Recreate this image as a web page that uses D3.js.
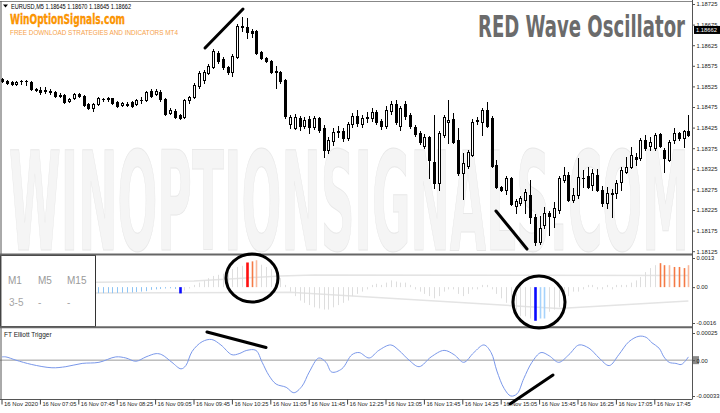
<!DOCTYPE html>
<html><head><meta charset="utf-8">
<script src="https://cdn.jsdelivr.net/npm/d3@7/dist/d3.min.js"></script>
<style>body{margin:0;background:#fff;}svg{display:block;}</style>
</head><body>
<svg id="c" width="720" height="413"></svg>
<script>
// ---------- DATA ----------
const symbolInfo = "EURUSD,M5  1.18645 1.18670 1.18645 1.18662";
const lastPrice = 1.18662;
const timeLabelBars = [0,8,16,24,32,40,48,56,64,72,80,88,96,104,112,120,128,136];
const timeLabels = ["16 Nov 2020","16 Nov 07:05","16 Nov 07:45","16 Nov 08:25","16 Nov 09:05","16 Nov 09:45","16 Nov 10:25","16 Nov 11:05","16 Nov 11:45","16 Nov 12:25","16 Nov 13:05","16 Nov 13:45","16 Nov 14:25","16 Nov 15:05","16 Nov 15:45","16 Nov 16:25","16 Nov 17:05","16 Nov 17:45"];
const priceTicks = [1.18725,1.18675,1.18625,1.18575,1.18525,1.18475,1.18425,1.18375,1.18325,1.18275,1.18225,1.18175,1.18125];
const waveTicks = [0.0013,0,-0.0016];
const waveTickLabels = ["0.0013","0.00","-0.0016"];
const trigTicks = [0.00025,0,-0.00033];
const trigTickLabels = ["0.00025","0.00","-0.00033"];

const open = [1.18543,1.18538,1.18536,1.18531,1.18537,1.18538,1.18536,1.18519,1.18516,1.18516,
1.18514,1.18511,1.18504,1.18504,1.18490,1.18497,1.18507,1.18502,1.18482,1.18473,
1.18482,1.18494,1.18494,1.18496,1.18487,1.18480,1.18483,1.18487,1.18482,1.18492,
1.18492,1.18514,1.18507,1.18511,1.18494,1.18460,1.18465,1.18456,1.18451,1.18492,
1.18499,1.18526,1.18541,1.18558,1.18572,1.18606,1.18592,1.18572,1.18560,1.18596,
1.18669,1.18669,1.18660,1.18660,1.18609,1.18594,1.18587,1.18560,1.18560,1.18541,
1.18434,1.18424,1.18448,1.18429,1.18446,1.18426,1.18448,1.18424,1.18371,1.18392,
1.18414,1.18417,1.18400,1.18434,1.18453,1.18434,1.18448,1.18448,1.18463,1.18441,
1.18429,1.18465,1.18482,1.18429,1.18482,1.18456,1.18426,1.18412,1.18380,1.18402,
1.18341,1.18290,1.18407,1.18439,1.18446,1.18395,1.18315,1.18332,1.18358,1.18441,
1.18439,1.18468,1.18448,1.18334,1.18281,1.18273,1.18302,1.18234,1.18242,1.18249,
1.18261,1.18208,1.18147,1.18188,1.18217,1.18208,1.18225,1.18298,1.18310,1.18249,
1.18261,1.18302,1.18307,1.18285,1.18310,1.18273,1.18242,1.18264,1.18266,1.18293,
1.18317,1.18329,1.18353,1.18351,1.18395,1.18380,1.18375,1.18409,1.18371,1.18346,
1.18395,1.18412,1.18400,1.18417];
const close = [1.18538,1.18533,1.18531,1.18536,1.18538,1.18537,1.18519,1.18516,1.18511,1.18515,
1.18511,1.18502,1.18502,1.18487,1.18494,1.18507,1.18502,1.18480,1.18473,1.18482,
1.18497,1.18495,1.18496,1.18485,1.18477,1.18485,1.18481,1.18477,1.18492,1.18493,
1.18511,1.18502,1.18514,1.18494,1.18458,1.18468,1.18451,1.18448,1.18492,1.18499,
1.18528,1.18558,1.18560,1.18575,1.18611,1.18587,1.18572,1.18560,1.18599,1.18672,
1.18672,1.18657,1.18655,1.18606,1.18594,1.18587,1.18560,1.18562,1.18538,1.18453,
1.18451,1.18451,1.18429,1.18443,1.18426,1.18448,1.18419,1.18371,1.18395,1.18414,
1.18417,1.18400,1.18434,1.18453,1.18436,1.18448,1.18451,1.18463,1.18439,1.18429,
1.18468,1.18482,1.18439,1.18473,1.18453,1.18429,1.18409,1.18390,1.18402,1.18346,
1.18290,1.18412,1.18451,1.18443,1.18390,1.18315,1.18339,1.18366,1.18439,1.18443,
1.18468,1.18429,1.18332,1.18281,1.18273,1.18302,1.18239,1.18247,1.18254,1.18268,
1.18208,1.18147,1.18181,1.18217,1.18210,1.18230,1.18302,1.18310,1.18249,1.18261,
1.18305,1.18303,1.18281,1.18315,1.18273,1.18242,1.18266,1.18266,1.18290,1.18322,
1.18329,1.18358,1.18349,1.18395,1.18375,1.18390,1.18407,1.18380,1.18351,1.18390,
1.18412,1.18400,1.18417,1.18407];
const high = [1.18545,1.18541,1.18538,1.18538,1.18541,1.18541,1.18538,1.18521,1.18524,1.18524,
1.18519,1.18514,1.18509,1.18507,1.18497,1.18509,1.18509,1.18504,1.18485,1.18485,
1.18499,1.18497,1.18499,1.18497,1.18490,1.18487,1.18487,1.18490,1.18494,1.18499,
1.18514,1.18519,1.18519,1.18516,1.18497,1.18473,1.18470,1.18458,1.18494,1.18502,
1.18533,1.18562,1.18565,1.18579,1.18616,1.18611,1.18596,1.18575,1.18604,1.18677,
1.18694,1.18691,1.18665,1.18662,1.18611,1.18596,1.18589,1.18575,1.18562,1.18543,
1.18456,1.18458,1.18453,1.18451,1.18453,1.18453,1.18451,1.18431,1.18402,1.18424,
1.18429,1.18424,1.18439,1.18460,1.18468,1.18456,1.18463,1.18473,1.18468,1.18446,
1.18477,1.18490,1.18492,1.18477,1.18490,1.18460,1.18431,1.18417,1.18409,1.18405,
1.18456,1.18417,1.18456,1.18492,1.18460,1.18424,1.18363,1.18371,1.18446,1.18451,
1.18473,1.18487,1.18453,1.18346,1.18283,1.18307,1.18305,1.18251,1.18259,1.18276,
1.18298,1.18215,1.18210,1.18232,1.18222,1.18244,1.18307,1.18329,1.18317,1.18278,
1.18351,1.18322,1.18329,1.18324,1.18324,1.18283,1.18281,1.18276,1.18298,1.18329,
1.18353,1.18378,1.18363,1.18400,1.18407,1.18402,1.18412,1.18412,1.18375,1.18395,
1.18424,1.18414,1.18419,1.18456];
const low = [1.18536,1.18531,1.18528,1.18528,1.18531,1.18528,1.18516,1.18514,1.18507,1.18509,
1.18507,1.18499,1.18499,1.18485,1.18487,1.18494,1.18499,1.18477,1.18470,1.18465,
1.18480,1.18490,1.18490,1.18482,1.18475,1.18477,1.18477,1.18475,1.18480,1.18485,
1.18490,1.18499,1.18504,1.18490,1.18456,1.18458,1.18448,1.18446,1.18448,1.18485,
1.18497,1.18521,1.18533,1.18555,1.18570,1.18582,1.18567,1.18555,1.18550,1.18594,
1.18660,1.18643,1.18645,1.18604,1.18592,1.18584,1.18558,1.18521,1.18533,1.18448,
1.18424,1.18422,1.18419,1.18424,1.18412,1.18422,1.18414,1.18353,1.18363,1.18383,
1.18402,1.18392,1.18395,1.18426,1.18429,1.18426,1.18439,1.18441,1.18434,1.18422,
1.18424,1.18458,1.18434,1.18419,1.18446,1.18424,1.18405,1.18385,1.18375,1.18302,
1.18278,1.18273,1.18402,1.18388,1.18388,1.18310,1.18251,1.18327,1.18356,1.18434,
1.18407,1.18426,1.18329,1.18278,1.18271,1.18264,1.18237,1.18217,1.18237,1.18217,
1.18193,1.18140,1.18142,1.18181,1.18164,1.18183,1.18217,1.18293,1.18247,1.18244,
1.18254,1.18281,1.18278,1.18273,1.18271,1.18234,1.18230,1.18208,1.18254,1.18273,
1.18315,1.18327,1.18334,1.18346,1.18371,1.18371,1.18371,1.18378,1.18317,1.18344,
1.18388,1.18395,1.18378,1.18405];

// RED Wave Oscillator histogram (one value per bar) and its state per bar
const waveHist = [-0.00025,-0.00026,-0.00025,-0.00024,-0.00025,-0.00026,-0.00027,-0.00027,-0.00026,-0.00025,
-0.00026,-0.00027,-0.00027,-0.00026,-0.00027,-0.00026,-0.00026,-0.00027,-0.00027,-0.00026,
-0.00027,-0.00027,-0.00026,-0.00027,-0.00026,-0.00025,-0.00025,-0.00024,-0.00022,-0.0002,
-0.00018,-0.00012,-0.0001,-0.00008,-0.00006,-0.00005,-0.00008,-0.00028,-0.00015,-0.00006,
0.0001,0.0002,0.0003,0.0004,0.0005,0.00055,0.0006,0.0007,0.0008,0.0009,
0.00095,0.0011,0.00115,0.0012,0.001,0.0009,0.0008,0.0006,0.0004,0.0001,
-0.0002,-0.0004,-0.0006,-0.0007,-0.0008,-0.0009,-0.00095,-0.001,-0.001,-0.0009,
-0.0008,-0.0007,-0.0006,-0.0004,-0.0003,-0.0002,-0.0001,0.0001,0.00015,0.0001,
0.0002,0.0003,0.00025,0.0002,0.0002,0.0001,-0.0001,-0.0002,-0.0003,-0.0004,
-0.0005,-0.0004,-0.0002,-0.0001,-0.0001,-0.0003,-0.0004,-0.0003,-0.0001,-0.0001,
0.0001,0.0001,-0.0001,-0.0003,-0.0005,-0.0007,-0.0008,-0.0011,-0.0013,-0.0013,
-0.0014,-0.0015,-0.0014,-0.0014,-0.0011,-0.001,-0.0009,-0.0007,-0.0004,-0.0002,
-0.0002,-0.0001,0.0001,0.0001,-0.0001,-0.0001,0.0001,-0.0001,0.0001,0.0001,
0.0001,0.0002,0.0003,0.00045,0.00067,0.00085,0.00098,0.00107,0.00098,0.00098,
0.0009,0.0009,0.00085,0.00098];
// L light blue, B blue, R red, O orange, P pale orange, C pale blue, N neutral
const waveState = "L".repeat(37) + "B" + "N".repeat(13) + "ROP" + "N".repeat(57) + "BCC" + "N".repeat(23) + "OOPOOOP";
const waveUpper = [[0,0.0002],[20,0.00022],[40,0.00027],[50,0.0004],[58,0.0005],[65,0.00054],[143,0.00052]];
const waveLower = [[0,-0.00027],[60,-0.00023],[116,-0.00095],[143,-0.00062]];

// FT Elliott Trigger line, [bar, value]
const trigger = [[0,0.00003],[0.8,0.00003],[2.9,0],[6.2,-0.00004],[10.4,-0.00007],[13.3,-0.00006],[16.7,-0.00003],
[20.2,-0.00002],[23.7,0.00003],[25.8,0.00002],[27.9,-0.00001],[30,0.00003],[32.1,0.00006],[33.3,0.00005],
[35.4,-0.00002],[37.3,-0.00008],[38.3,-0.00005],[39.6,0.00008],[41.7,0.00017],[43.7,0.00019],[45.6,0.00014],
[47.9,0.00005],[49.4,0.00006],[51,0.00009],[52.9,0.00009],[54.2,-0.00002],[55.6,-0.00014],[57.1,-0.00022],
[59.2,-0.00025],[60.8,-0.0003],[62.5,-0.00024],[64,-0.00011],[66,0.00002],[67.5,-0.00002],[68.7,-0.00011],
[70.8,-0.00008],[72.9,0.00005],[74.4,0.00007],[76.5,0.00002],[78.5,0.00009],[81,0.00014],[82.7,0.00009],
[84.8,0],[86.9,-0.00006],[89.4,0.00003],[92.1,0.00009],[94.2,0.00005],[96.2,-0.00002],[98.3,0.00007],
[100.4,0.00014],[101.9,0.00007],[103.1,-0.0001],[104.6,-0.00026],[106,-0.00033],[107.3,-0.00031],[108.7,-0.00017],
[110.4,-0.00002],[112.3,0.00007],[114,0.00004],[116,-0.00002],[118.1,0.00005],[120.2,0.00014],[122.3,0.00011],
[124.4,0.00002],[126.5,-0.00005],[128.5,0.00005],[130.6,0.00017],[132.7,0.00022],[134.2,0.00021],[135.4,0.00016],
[136.9,0.00011],[137.9,0.00003],[139,-0.00002],[140.4,-0.00003],[141.5,-0.00004],[142.5,0],[143,0.00003]];

// ---------- LAYOUT ----------
const svg = d3.select("#c");
const AX = 692;
const mainTop = 2, mainBot = 254, botBot = 399.5;
const FONT = "'Liberation Sans', Arial, sans-serif";

const x = d3.scaleLinear().domain([0, 143]).range([2, 688.4]);
const yP = d3.scaleLinear().domain([1.18125, 1.18725]).range([251.2, 4]);
const yW = d3.scaleLinear().domain([-0.0016, 0.0013]).range([323, 258]);
const yT = d3.scaleLinear().domain([-0.00033, 0.00025]).range([396, 333]);

svg.append("rect").attr("width", 720).attr("height", 413).attr("fill", "#fff");

const defs = svg.append("defs");
defs.append("clipPath").attr("id", "cm").append("rect").attr("x", 0).attr("y", mainTop).attr("width", AX).attr("height", mainBot - mainTop);

// watermark
svg.append("g").attr("clip-path", "url(#cm)").append("text")
  .attr("x", 9).attr("y", 250)
  .attr("textLength", 680).attr("lengthAdjust", "spacingAndGlyphs")
  .style("font-family", "'Liberation Sans Narrow','DejaVu Sans Condensed','DejaVu Sans',sans-serif")
  .style("font-weight", "bold").style("font-size", "138px")
  .attr("fill", "#f5f5f5").attr("stroke", "#e8e8e8").attr("stroke-width", 1)
  .text("WINOPTIONSIGNALS.COM");

// candles
const bars = d3.range(open.length).map(i => ({i, o: open[i], c: close[i], h: high[i], l: low[i]}));
const gC = svg.append("g").attr("clip-path", "url(#cm)");
bars.forEach(d => {
  const px = Math.round(x(d.i));
  const hi = Math.max(d.h, d.o, d.c), lo = Math.min(d.l, d.o, d.c);
  gC.append("line").attr("x1", px + 0.5).attr("x2", px + 0.5)
    .attr("y1", Math.round(yP(hi))).attr("y2", Math.round(yP(lo)) + 1)
    .attr("stroke", "#000").attr("stroke-width", 1);
  const top = Math.round(yP(Math.max(d.o, d.c))), bot = Math.round(yP(Math.min(d.o, d.c)));
  if (bot - top < 1) {
    gC.append("rect").attr("x", px - 1).attr("y", top).attr("width", 3).attr("height", 1).attr("fill", "#000");
  } else if (d.c >= d.o) {
    gC.append("rect").attr("x", px - 0.5).attr("y", top + 0.5).attr("width", 2).attr("height", bot - top)
      .attr("fill", "#fff").attr("stroke", "#000").attr("stroke-width", 1);
  } else {
    gC.append("rect").attr("x", px - 1).attr("y", top).attr("width", 3).attr("height", bot - top + 1).attr("fill", "#000");
  }
});

// header texts
svg.append("path").attr("d", "M3,4.5 L8,4.5 L5.5,7.5 Z").attr("fill", "#000");
svg.append("text").attr("x", 11).attr("y", 8.5).attr("textLength", 120).attr("lengthAdjust", "spacingAndGlyphs")
  .style("font-family", FONT).style("font-size", "7px").attr("fill", "#000").text(symbolInfo);
svg.append("text").attr("x", 10).attr("y", 23.5).attr("textLength", 115).attr("lengthAdjust", "spacingAndGlyphs")
  .style("font-family", "'Liberation Sans Narrow','DejaVu Sans Condensed',sans-serif").style("font-weight", "bold").style("font-size", "14px")
  .attr("fill", "#ff9a00").attr("stroke", "#f08000").attr("stroke-width", 0.3).text("WinOptionSignals.com");
svg.append("text").attr("x", 10).attr("y", 35).attr("textLength", 168).attr("lengthAdjust", "spacingAndGlyphs")
  .style("font-family", FONT).style("font-size", "6.3px").attr("fill", "#f6a24a").text("FREE DOWNLOAD STRATEGIES AND INDICATORS MT4");
svg.append("text").attr("x", 478).attr("y", 37).attr("textLength", 207).attr("lengthAdjust", "spacingAndGlyphs")
  .style("font-family", "'Liberation Sans Narrow','DejaVu Sans Condensed',sans-serif").style("font-weight", "bold").style("font-size", "31px")
  .attr("fill", "#6b6b6b").text("RED Wave Oscillator");

// ---------- middle panel ----------
const line = d3.line().x(d => x(d[0])).y(d => yW(d[1]));
svg.append("path").datum(waveUpper).attr("d", line).attr("fill", "none").attr("stroke", "#e4e4e4").attr("stroke-width", 1.5);
svg.append("path").datum(waveLower).attr("d", line).attr("fill", "none").attr("stroke", "#e4e4e4").attr("stroke-width", 1.5);
const stateStyle = {
  L: {c: "#8ec4f4", w: 1}, B: {c: "#0a0aff", w: 2.6}, R: {c: "#ff1010", w: 2.6},
  O: {c: "#f57a45", w: 1.6}, P: {c: "#f9b89c", w: 1.6}, C: {c: "#a6d2fb", w: 1.6}, N: {c: "#dedede", w: 1}
};
svg.append("g").selectAll("line").data(waveHist).join("line")
  .attr("x1", (d, i) => Math.round(x(i)) + 0.5).attr("x2", (d, i) => Math.round(x(i)) + 0.5)
  .attr("y1", yW(0)).attr("y2", d => yW(d))
  .attr("stroke", (d, i) => stateStyle[waveState[i]].c)
  .attr("stroke-width", (d, i) => stateStyle[waveState[i]].w);

// timeframe box
svg.append("rect").attr("x", 0.5).attr("y", 255.5).attr("width", 95).attr("height", 71).attr("fill", "#fff").attr("stroke", "#333");
const tf = [["M1", 8], ["M5", 38], ["M15", 67]];
const tfVal = [["3-5", 9], ["-", 38], ["-", 67]];
tf.forEach(t => svg.append("text").attr("x", t[1]).attr("y", 284).style("font-family", FONT).style("font-size", "10px").attr("fill", "#9a9a9a").text(t[0]));
tfVal.forEach(t => svg.append("text").attr("x", t[1]).attr("y", 306).style("font-family", FONT).style("font-size", "10px").attr("fill", "#a5a5a5").text(t[0]));

// ---------- bottom panel ----------
svg.append("line").attr("x1", 0).attr("x2", AX).attr("y1", yT(0)).attr("y2", yT(0)).attr("stroke", "#9a9a9a").attr("stroke-width", 1);
svg.append("path").datum(trigger)
  .attr("d", d3.line().x(d => x(d[0])).y(d => yT(d[1])).curve(d3.curveCatmullRom))
  .attr("fill", "none").attr("stroke", "#7a98ea").attr("stroke-width", 1);
svg.append("text").attr("x", 4).attr("y", 336.5).style("font-family", FONT).style("font-size", "6.5px").attr("fill", "#222").text("FT Elliott Trigger");

// ---------- frames ----------
svg.append("line").attr("x1", 0).attr("x2", AX).attr("y1", 1.5).attr("y2", 1.5).attr("stroke", "#888");
svg.append("line").attr("x1", 1).attr("x2", 1).attr("y1", 1).attr("y2", botBot).attr("stroke", "#555");
svg.append("line").attr("x1", 0).attr("x2", AX).attr("y1", 254.5).attr("y2", 254.5).attr("stroke", "#666").attr("stroke-width", 2);
svg.append("line").attr("x1", 0).attr("x2", AX).attr("y1", 327.3).attr("y2", 327.3).attr("stroke", "#666").attr("stroke-width", 2);
svg.append("line").attr("x1", 0).attr("x2", AX).attr("y1", botBot).attr("y2", botBot).attr("stroke", "#555");
svg.append("line").attr("x1", AX + 0.5).attr("x2", AX + 0.5).attr("y1", 0).attr("y2", botBot).attr("stroke", "#555");

// ---------- axes ----------
function styleAxis(g) {
  g.select(".domain").remove();
  g.selectAll("text").style("font-family", FONT).style("font-size", "5.8px").attr("fill", "#222");
  g.selectAll(".tick line").attr("stroke", "#555");
}
svg.append("g").attr("transform", `translate(${AX + 0.5},0)`)
  .call(d3.axisRight(yP).tickValues(priceTicks).tickFormat(d3.format(".5f")).tickSize(2.5).tickPadding(1.5))
  .call(styleAxis);
svg.append("g").attr("transform", `translate(${AX + 0.5},0)`)
  .call(d3.axisRight(yW).tickValues(waveTicks).tickFormat((d, i) => waveTickLabels[i]).tickSize(2.5).tickPadding(1.5))
  .call(styleAxis);
svg.append("rect").attr("x", AX + 1).attr("y", yT(0) - 4).attr("width", 6).attr("height", 8).attr("fill", "#8a8a8a");
svg.append("g").attr("transform", `translate(${AX + 0.5},0)`)
  .call(d3.axisRight(yT).tickValues(trigTicks).tickFormat((d, i) => trigTickLabels[i]).tickSize(2.5).tickPadding(1.5))
  .call(styleAxis);

// current price label
svg.append("rect").attr("x", AX + 2).attr("y", yP(lastPrice) - 4).attr("width", 26).attr("height", 8).attr("fill", "#000");
svg.append("text").attr("x", AX + 4).attr("y", yP(lastPrice) + 2.2).style("font-family", FONT).style("font-size", "5.8px").attr("fill", "#fff").text(d3.format(".5f")(lastPrice));

// time axis
const gx = svg.append("g").attr("transform", `translate(0,${botBot})`)
  .call(d3.axisBottom(x).tickValues(timeLabelBars).tickFormat((d, i) => timeLabels[i]).tickSize(5).tickPadding(0));
gx.select(".domain").remove();
gx.selectAll(".tick line").attr("stroke", "#444").attr("transform", "translate(-0.5,0)");
gx.selectAll("text").attr("text-anchor", "start").attr("x", 1.5).attr("y", 2.5).attr("dy", "0.71em")
  .attr("textLength", 34).attr("lengthAdjust", "spacingAndGlyphs")
  .style("font-family", FONT).style("font-size", "6px").attr("fill", "#222");

// ---------- annotations ----------
const ann = svg.append("g").attr("stroke", "#000").attr("fill", "none").attr("stroke-linecap", "round");
ann.append("line").attr("x1", 205).attr("y1", 48).attr("x2", 243).attr("y2", 9).attr("stroke-width", 3);
ann.append("line").attr("x1", 496).attr("y1", 211).attr("x2", 527).attr("y2", 249).attr("stroke-width", 3);
ann.append("line").attr("x1", 207).attr("y1", 332).attr("x2", 266).attr("y2", 347.5).attr("stroke-width", 3);
ann.append("line").attr("x1", 510).attr("y1", 404).attr("x2", 553).attr("y2", 375).attr("stroke-width", 3);
ann.append("ellipse").attr("cx", 252).attr("cy", 278).attr("rx", 26).attr("ry", 24).attr("stroke-width", 3);
ann.append("ellipse").attr("cx", 539).attr("cy", 302).attr("rx", 26).attr("ry", 26).attr("stroke-width", 3);
</script>
</body></html>
